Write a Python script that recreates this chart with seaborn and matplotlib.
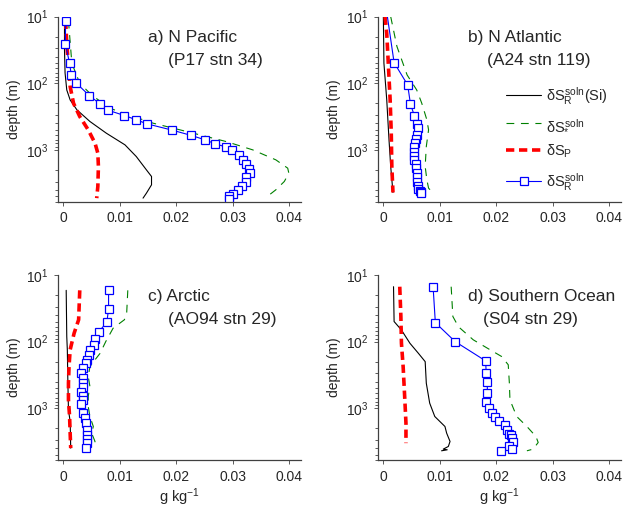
import numpy as np
import pandas as pd
import matplotlib
matplotlib.use('Agg')
import matplotlib.pyplot as plt
import seaborn as sns

# ---------------- data (g/kg vs depth m) ----------------
# a) N Pacific
a_si_x = [0.0002, 0.0002, 0.0003, 0.0006, 0.0012, 0.0024, 0.0047, 0.0076, 0.0109, 0.0129, 0.0147, 0.0156, 0.0156, 0.0147, 0.0141]
a_si_d = [10.6, 31.6, 70, 126, 178, 251, 375, 562, 841, 1259, 2000, 2512, 3350, 4467, 5309]
a_st_x = [0.0009, 0.0015, 0.0029, 0.0050, 0.0082, 0.0124, 0.0159, 0.0218, 0.0288, 0.0335, 0.0376, 0.0397, 0.0399, 0.0391, 0.0376, 0.0357]
a_st_d = [11.5, 50, 100, 150, 237, 316, 398, 530, 750, 1000, 1413, 1884, 2239, 2985, 3981, 5309]
a_p_x = [0.0004, 0.0006, 0.0009, 0.0012, 0.0018, 0.0029, 0.0044, 0.0056, 0.0061, 0.0062, 0.0061, 0.0059]
a_p_d = [11.5, 25, 56, 112, 200, 316, 501, 794, 1122, 1778, 3548, 5309]
a_r_x = [0.0004, 0.00035, 0.0011, 0.0014, 0.0023, 0.0046, 0.0064, 0.0079, 0.0108, 0.0128, 0.0148, 0.0193, 0.0225,
         0.0251, 0.0269, 0.0287, 0.0299, 0.0311, 0.0318, 0.0324, 0.0329, 0.0331, 0.0324, 0.0323, 0.0316, 0.0309,
         0.0300, 0.0293, 0.0293]
a_r_d = [11.5, 25.7, 50, 75, 100, 153, 202, 254, 305, 351, 407, 507, 603, 708, 813, 902, 1000, 1202, 1396, 1622,
         1950, 2188, 2570, 3020, 3467, 3981, 4571, 5012, 5433]

# b) N Atlantic
b_si_x = [0.0000, 0.0001, 0.0006, 0.0010, 0.0013, 0.0017]
b_si_d = [10, 50, 178, 708, 1778, 4365]
b_st_x = [0.0013, 0.0024, 0.0042, 0.0059, 0.0068, 0.0077, 0.0080, 0.0076, 0.0074, 0.0077, 0.0080, 0.0087]
b_st_d = [10, 28, 75, 126, 200, 355, 501, 891, 1778, 2818, 3758, 4365]
b_p_x = [0.0003, 0.0006, 0.0009, 0.0012, 0.0014, 0.0015, 0.0017]
b_p_d = [10, 18, 56, 178, 562, 1778, 4365]
b_r_x = [0.0002, 0.0019, 0.0043, 0.0048, 0.0055, 0.0060, 0.0061, 0.0060, 0.0058, 0.0056, 0.0055, 0.0055, 0.0055,
         0.0055, 0.0057, 0.0058, 0.0059, 0.0060, 0.0060, 0.0061, 0.0062, 0.0064, 0.0066, 0.0067]
b_r_d = [5, 49, 106, 206, 309, 407, 473, 596, 692, 794, 912, 1059, 1230, 1413, 1641, 1905, 2239, 2600, 3020,
         3467, 3890, 4169, 4365, 4467]

# c) Arctic
c_si_x = [0.0005, 0.0006, 0.0007, 0.0008, 0.0009, 0.0012, 0.0013]
c_si_d = [17, 84, 133, 422, 1059, 1585, 3981]
c_st_x = [0.0114, 0.0112, 0.0108, 0.0088, 0.0075, 0.0065, 0.0056, 0.0047, 0.0044, 0.0047, 0.0044, 0.0044,
          0.0047, 0.0053, 0.0050, 0.0056, 0.0053]
c_st_d = [17, 38, 47, 63, 100, 150, 188, 237, 335, 473, 668, 944, 1334, 1884, 2371, 3162, 3758]
c_p_x = [0.0029, 0.0027, 0.0019, 0.0012, 0.0010, 0.0009, 0.0009, 0.0011, 0.0012, 0.0013]
c_p_d = [17, 47, 75, 133, 237, 422, 750, 1334, 2371, 3981]
c_r_x = [0.0080, 0.0080, 0.0077, 0.0063, 0.0056, 0.0055, 0.0048, 0.0046, 0.0042, 0.0040, 0.0034, 0.0032, 0.0035,
         0.0035, 0.0034, 0.0032, 0.0035, 0.0034, 0.0032, 0.0035, 0.0038, 0.0040, 0.0041, 0.0042, 0.0041, 0.0041, 0.0040]
c_r_d = [17, 32, 51, 71, 92, 112, 133, 158, 188, 211, 251, 292, 355, 422, 484, 562, 646, 750, 871, 1189, 1413,
         1679, 2113, 2512, 2917, 3350, 3981]

# d) Southern Ocean
d_si_x = [0.0018, 0.0019, 0.0032, 0.0047, 0.0062, 0.0074, 0.0076, 0.0082, 0.0091, 0.0103, 0.0109, 0.0112,
          0.0118, 0.0115, 0.0106, 0.0113, 0.0103]
d_si_d = [15, 50, 67, 106, 150, 200, 422, 841, 1334, 1679, 1884, 2371, 3162, 3758, 4121, 4217, 4365]
d_st_x = [0.0120, 0.0123, 0.0133, 0.0159, 0.0189, 0.0209, 0.0221, 0.0223, 0.0224, 0.0236, 0.0254, 0.0270,
          0.0274, 0.0265, 0.0254]
d_st_d = [15, 42, 60, 94, 133, 167, 223, 422, 750, 1334, 1884, 2661, 3273, 4121, 4365]
d_p_x = [0.0029, 0.0031, 0.0032, 0.0035, 0.0038, 0.0040, 0.0040]
d_p_d = [15, 42, 106, 237, 750, 1679, 3350]
d_r_x = [0.0088, 0.0092, 0.0127, 0.0181, 0.0182, 0.0184, 0.0184, 0.0181, 0.0187, 0.0193, 0.0198, 0.0204,
         0.0215, 0.0219, 0.0223, 0.0225, 0.0227, 0.0229, 0.0222, 0.0227, 0.0208]
d_r_d = [15, 52, 100, 195, 299, 398, 596, 794, 1000, 1189, 1365, 1585, 1778, 2113, 2427, 2570, 2818, 3273,
         3758, 4121, 4365]

panel_titles = ["a) N Pacific", "b) N Atlantic", "c) Arctic", "d) Southern Ocean"]
panel_subtitles = ["(P17 stn 34)", "(A24 stn 119)", "(AO94 stn 29)", "(S04 stn 29)"]
legend_labels = [r"$\delta S_{\rm R}^{\rm soln}$(Si)", r"$\delta S_{*}^{\rm soln}$",
                 r"$\delta S_{\rm P}$", r"$\delta S_{\rm R}^{\rm soln}$"]
x_ticks = [0, 0.01, 0.02, 0.03, 0.04]
x_ticklabels = ["0", "0.01", "0.02", "0.03", "0.04"]

# ---------------- style ----------------
sns.set_style('ticks')
plt.rcParams['font.family'] = ['Liberation Sans', 'DejaVu Sans']
plt.rcParams['mathtext.fontset'] = 'custom'
plt.rcParams['mathtext.rm'] = 'Liberation Sans'
plt.rcParams['mathtext.it'] = 'Liberation Sans'
plt.rcParams['mathtext.bf'] = 'Liberation Sans:bold'

fig = plt.figure(figsize=(6.24, 5.08), dpi=100)
W = 0.3894
H = 0.3642
positions = [(0.0925, 0.603), (0.6053, 0.603), (0.0925, 0.0945), (0.6053, 0.0945)]
panels = [
    (a_si_x, a_si_d, a_st_x, a_st_d, a_p_x, a_p_d, a_r_x, a_r_d),
    (b_si_x, b_si_d, b_st_x, b_st_d, b_p_x, b_p_d, b_r_x, b_r_d),
    (c_si_x, c_si_d, c_st_x, c_st_d, c_p_x, c_p_d, c_r_x, c_r_d),
    (d_si_x, d_si_d, d_st_x, d_st_d, d_p_x, d_p_d, d_r_x, d_r_d),
]
sub_x = [0.454, 0.449, 0.454, 0.435]

spine_col = '#404040'
for i, (pos, data) in enumerate(zip(positions, panels)):
    ax = fig.add_axes([pos[0], pos[1], W, H])
    sx, sd, tx, td, px, pd_, rx, rd = data
    sns.lineplot(x=sx, y=sd, sort=False, estimator=None, ax=ax, color='black', lw=0.8,
                 label=legend_labels[0])
    sns.lineplot(x=tx, y=td, sort=False, estimator=None, ax=ax, color='#008000', lw=0.8,
                 linestyle=(0, (7, 6)), label=legend_labels[1])
    sns.lineplot(x=px, y=pd_, sort=False, estimator=None, ax=ax, color='#ff0000', lw=2.6,
                 linestyle=(0, (2.3, 1.3)), label=legend_labels[2])
    sns.lineplot(x=rx, y=rd, sort=False, estimator=None, ax=ax, color='#0000ff', lw=0.8,
                 marker='s', markersize=5.3, markerfacecolor='white', markeredgecolor='#0000ff',
                 markeredgewidth=0.9, label=legend_labels[3])
    ax.set_yscale('log')
    ax.set_ylim(6000, 10)
    ax.set_xlim(-0.001, 0.042)
    ax.set_xticks(x_ticks)
    ax.set_xticklabels(x_ticklabels)
    ax.set_yticks([10, 100, 1000])
    ax.yaxis.set_minor_locator(matplotlib.ticker.LogLocator(base=10, subs=np.arange(2, 10), numticks=20))
    ax.tick_params(axis='both', which='major', labelsize=10, length=3, width=0.6,
                   color=spine_col, pad=4, direction='out')
    ax.tick_params(axis='y', which='minor', length=2.5, width=0.6, color=spine_col,
                   direction='out', left=True)
    for s in ['top', 'right']:
        ax.spines[s].set_visible(False)
    for s in ['left', 'bottom']:
        ax.spines[s].set_color(spine_col)
        ax.spines[s].set_linewidth(0.9)
    ax.set_ylabel('depth (m)', fontsize=10, labelpad=3)
    if i >= 2:
        ax.set_xlabel(r'g kg$^{-1}$', fontsize=10.5, labelpad=2)
    else:
        ax.set_xlabel('')
    ax.text(0.372, 0.886, panel_titles[i], transform=ax.transAxes, fontsize=12.5,
            ha='left', va='center')
    ax.text(sub_x[i], 0.762, panel_subtitles[i], transform=ax.transAxes, fontsize=12.5,
            ha='left', va='center')
    leg = ax.get_legend()
    if i == 1:
        h, l = ax.get_legend_handles_labels()
        ax.legend(h, l, loc='upper left', bbox_to_anchor=(0.53, 0.632), frameon=False,
                  fontsize=10.5, handlelength=2.4, handletextpad=0.3, labelspacing=0.75,
                  borderpad=0, borderaxespad=0)
    elif leg is not None:
        leg.remove()

fig.savefig('out.png', dpi=100)
